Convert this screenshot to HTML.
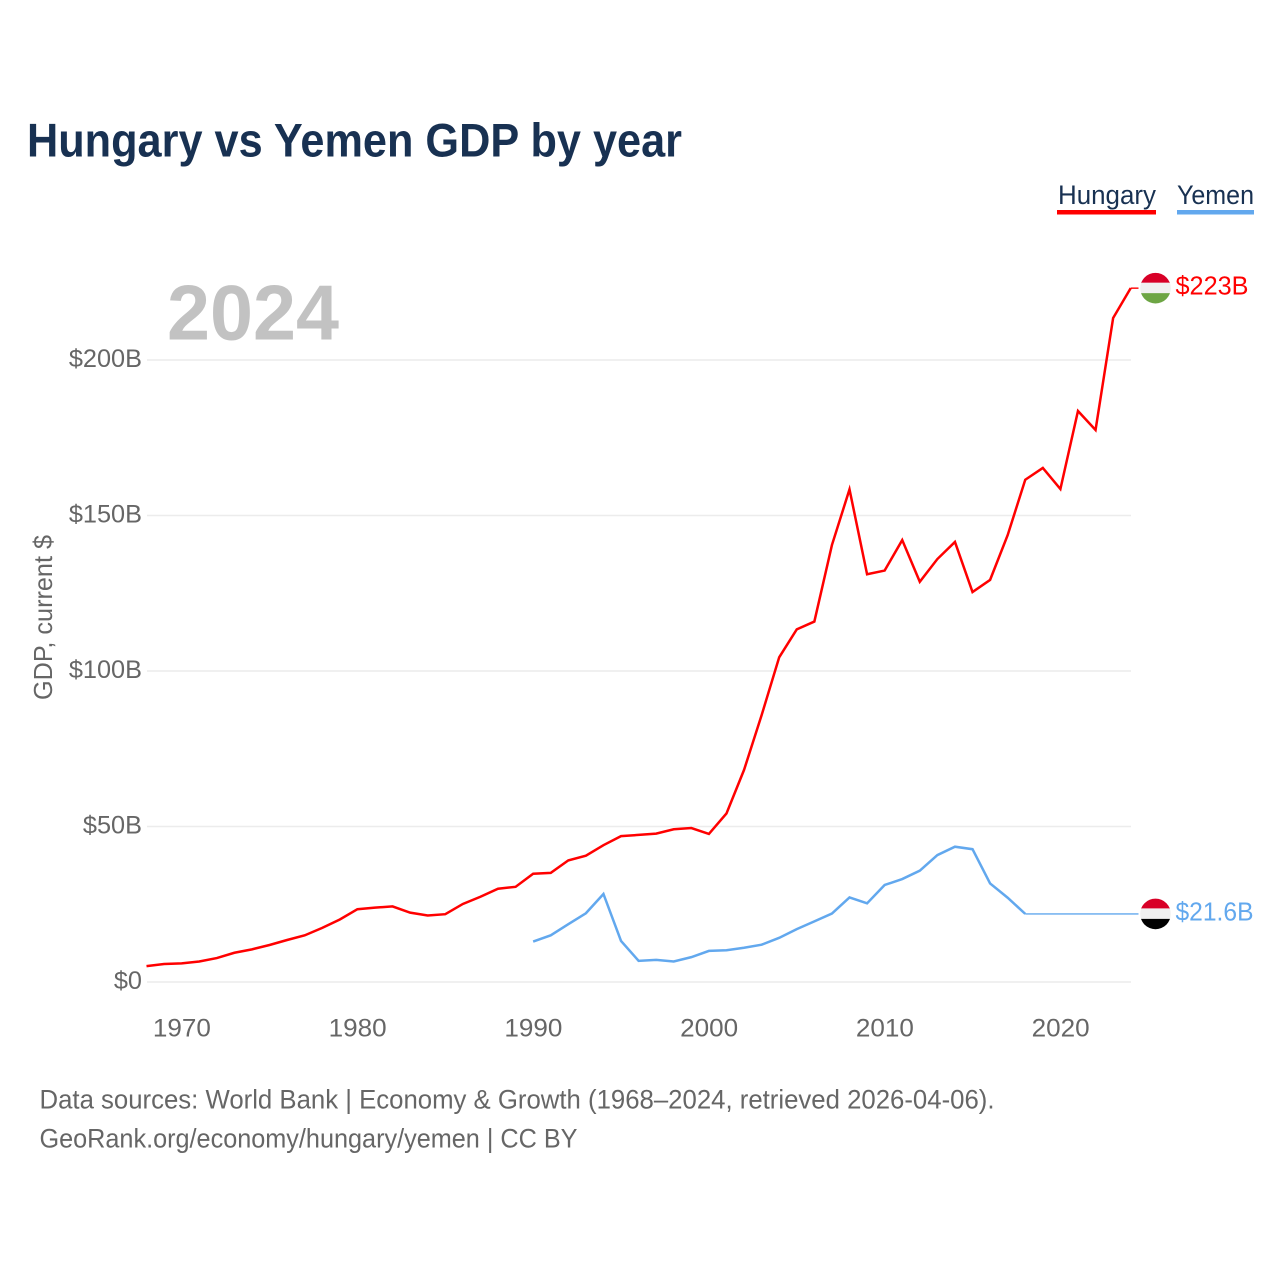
<!DOCTYPE html>
<html lang="en">
<head>
<meta charset="utf-8">
<title>Hungary vs Yemen GDP by year</title>
<style>
  html, body { margin: 0; padding: 0; background: #fff; }
  svg { display: block; font-family: "Liberation Sans", sans-serif; }
</style>
</head>
<body>
<svg id="chart" width="1280" height="1280" viewBox="0 0 1280 1280" xmlns="http://www.w3.org/2000/svg">
  <rect x="0" y="0" width="1280" height="1280" fill="#ffffff"/>
  <text x="27" y="156.5" font-size="47" font-weight="700" fill="#183152" textLength="655" lengthAdjust="spacingAndGlyphs">Hungary vs Yemen GDP by year</text>

  <g>
    <text x="1058" y="204" font-size="27" fill="#183152" textLength="98" lengthAdjust="spacingAndGlyphs">Hungary</text>
    <rect x="1057" y="210" width="99" height="4.5" fill="#ff0000"/>
  </g>
  <g>
    <text x="1177" y="204" font-size="27" fill="#183152" textLength="77" lengthAdjust="spacingAndGlyphs">Yemen</text>
    <rect x="1177" y="210" width="77" height="4.5" fill="#62a8ee"/>
  </g>

  <text transform="translate(52 700) rotate(-90)" font-size="26" fill="#666666" textLength="165" lengthAdjust="spacingAndGlyphs">GDP, current $</text>

  <g id="grid"></g>
  <g id="yticks"></g>
  <g id="xticks"></g>

  <text x="167" y="339.5" font-size="78" font-weight="700" fill="#c2c2c2" textLength="172" lengthAdjust="spacingAndGlyphs">2024</text>

  <g id="series"></g>

  <defs>
    <clipPath id="flag-clip"><circle cx="0" cy="0" r="15.3"/></clipPath>
  </defs>
  <g id="flag-hungary" clip-path="url(#flag-clip)">
    <rect x="-16" y="-16" width="32" height="11" fill="#d80027"/>
    <rect x="-16" y="-5.5" width="32" height="11" fill="#f0f0f0"/>
    <rect x="-16" y="5" width="32" height="11" fill="#6da544"/>
  </g>
  <g id="flag-yemen" clip-path="url(#flag-clip)">
    <rect x="-16" y="-16" width="32" height="11" fill="#d80027"/>
    <rect x="-16" y="-5.5" width="32" height="11" fill="#f0f0f0"/>
    <rect x="-16" y="5" width="32" height="11" fill="#000000"/>
  </g>
  <text id="value-hungary" x="1175.5" font-size="25.5" fill="#ff0000" textLength="73" lengthAdjust="spacingAndGlyphs"></text>
  <text id="value-yemen" x="1175.5" font-size="25.5" fill="#62a8ee" textLength="78" lengthAdjust="spacingAndGlyphs"></text>

  <text x="39.5" y="1108.5" font-size="27" fill="#666666" textLength="955" lengthAdjust="spacingAndGlyphs">Data sources: World Bank | Economy &amp; Growth (1968–2024, retrieved 2026-04-06).</text>
  <text x="39.5" y="1147.5" font-size="27" fill="#666666" textLength="538" lengthAdjust="spacingAndGlyphs">GeoRank.org/economy/hungary/yemen | CC BY</text>
</svg>
<script>
const years = [1968,1969,1970,1971,1972,1973,1974,1975,1976,1977,1978,1979,1980,1981,1982,1983,1984,1985,1986,1987,1988,1989,1990,1991,1992,1993,1994,1995,1996,1997,1998,1999,2000,2001,2002,2003,2004,2005,2006,2007,2008,2009,2010,2011,2012,2013,2014,2015,2016,2017,2018,2019,2020,2021,2022,2023,2024];
const hungaryGdp = [5.1,5.8,6.0,6.6,7.7,9.4,10.5,11.9,13.5,15.0,17.4,20.1,23.4,23.9,24.3,22.3,21.4,21.8,25.1,27.4,30.0,30.6,34.8,35.1,39.1,40.6,44.0,46.9,47.3,47.7,49.1,49.5,47.6,54.2,68.2,85.8,104.4,113.4,115.9,140.5,158.4,131.1,132.3,142.1,128.7,136.0,141.5,125.4,129.3,143.7,161.5,165.3,158.5,183.6,177.5,213.5,223.1];
const yemenGdp = [null,null,null,null,null,null,null,null,null,null,null,null,null,null,null,null,null,null,null,null,null,null,13.0,15.0,18.6,22.1,28.3,13.2,6.8,7.1,6.6,8.0,10.0,10.2,11.0,12.0,14.2,17.0,19.5,22.0,27.2,25.3,31.2,33.1,35.8,40.8,43.5,42.7,31.7,27.1,21.9];
const yTickValues = [0,50,100,150,200];
const yTickLabels = ["$0","$50B","$100B","$150B","$200B"];
const xTickValues = [1970,1980,1990,2000,2010,2020];
const hungaryLabel = "$223B";
const yemenLabel = "$21.6B";

const NS = "http://www.w3.org/2000/svg";
const xScale = year => 146.5 + (year - 1968) * (1130.7 - 146.5) / (2024 - 1968);
const yScale = value => 982 - value * 3.11;

const grid = document.getElementById("grid");
const yticks = document.getElementById("yticks");
yTickValues.forEach((v, i) => {
  const line = document.createElementNS(NS, "line");
  
  
  line.setAttribute("x1", 147);
  line.setAttribute("x2", 1131);
  line.setAttribute("y1", yScale(v));
  line.setAttribute("y2", yScale(v));
  line.setAttribute("stroke", "#ececec");
  line.setAttribute("stroke-width", "1.5");
  grid.appendChild(line);

  const t = document.createElementNS(NS, "text");
  
  
  t.setAttribute("x", 142);
  t.setAttribute("y", yScale(v) + 7);
  t.setAttribute("text-anchor", "end");
  t.setAttribute("font-size", "25.3");
  t.setAttribute("fill", "#666666");
  t.textContent = yTickLabels[i];
  yticks.appendChild(t);
});

const xticks = document.getElementById("xticks");
xTickValues.forEach(year => {
  const t = document.createElementNS(NS, "text");
  
  
  t.setAttribute("x", xScale(year) + 0.3);
  t.setAttribute("y", 1036.5);
  t.setAttribute("text-anchor", "middle");
  t.setAttribute("font-size", "25.3");
  t.setAttribute("fill", "#666666");
  t.setAttribute("textLength", "58");
  t.setAttribute("lengthAdjust", "spacingAndGlyphs");
  t.textContent = String(year);
  xticks.appendChild(t);
});

const series = document.getElementById("series");
const flagX = 1155.5;

function lastPoint(values) {
  let idx = values.length - 1;
  while (values[idx] === null || values[idx] === undefined) idx--;
  return [xScale(years[idx]), yScale(values[idx])];
}
function pathFor(values) {
  const pts = [];
  values.forEach((v, i) => {
    if (v !== null) pts.push(xScale(years[i]).toFixed(2) + "," + yScale(v).toFixed(2));
  });
  return "M" + pts.join("L");
}

const hungaryLine = document.createElementNS(NS, "path");


hungaryLine.setAttribute("d", pathFor(hungaryGdp));
hungaryLine.setAttribute("fill", "none");
hungaryLine.setAttribute("stroke", "#ff0000");
hungaryLine.setAttribute("stroke-width", "2.5");
hungaryLine.setAttribute("stroke-linejoin", "miter");
series.appendChild(hungaryLine);

const yemenLine = document.createElementNS(NS, "path");


yemenLine.setAttribute("d", pathFor(yemenGdp));
yemenLine.setAttribute("fill", "none");
yemenLine.setAttribute("stroke", "#62a8ee");
yemenLine.setAttribute("stroke-width", "2.5");
series.appendChild(yemenLine);

const hungaryEnd = lastPoint(hungaryGdp);
const hungaryLead = document.createElementNS(NS, "line");


hungaryLead.setAttribute("x1", hungaryEnd[0]);
hungaryLead.setAttribute("y1", hungaryEnd[1]);
hungaryLead.setAttribute("x2", flagX - 17);
hungaryLead.setAttribute("y2", hungaryEnd[1]);
hungaryLead.setAttribute("stroke", "#ff0000");
hungaryLead.setAttribute("stroke-width", "1.4");
series.appendChild(hungaryLead);

const yemenEnd = lastPoint(yemenGdp);
const yemenLead = document.createElementNS(NS, "line");


yemenLead.setAttribute("x1", yemenEnd[0]);
yemenLead.setAttribute("y1", yemenEnd[1]);
yemenLead.setAttribute("x2", flagX - 17);
yemenLead.setAttribute("y2", yemenEnd[1]);
yemenLead.setAttribute("stroke", "#62a8ee");
yemenLead.setAttribute("stroke-width", "1.4");
series.appendChild(yemenLead);

document.getElementById("flag-hungary").setAttribute("transform", "translate(" + flagX + " " + hungaryEnd[1] + ")");
document.getElementById("flag-yemen").setAttribute("transform", "translate(" + flagX + " " + yemenEnd[1] + ")");

const hv = document.getElementById("value-hungary");
hv.setAttribute("y", hungaryEnd[1] + 6.5);
hv.textContent = hungaryLabel;
const yv = document.getElementById("value-yemen");
yv.setAttribute("y", yemenEnd[1] + 6.5);
yv.textContent = yemenLabel;
</script>
</body>
</html>
